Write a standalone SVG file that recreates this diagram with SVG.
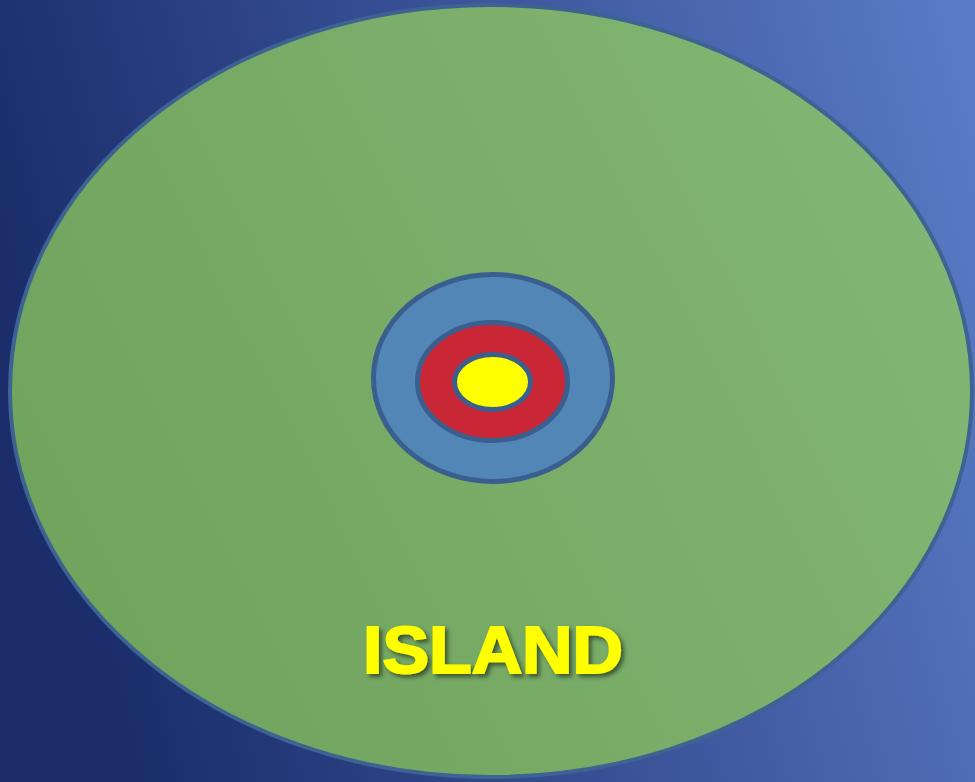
<svg xmlns="http://www.w3.org/2000/svg" width="975" height="782" viewBox="0 0 975 782">
<defs>
<linearGradient id="bg" x1="0" y1="0.3" x2="1" y2="0.1">
<stop offset="0" stop-color="#1b2d6b"/>
<stop offset="0.5" stop-color="#3a5399"/>
<stop offset="1" stop-color="#5a7bc6"/>
</linearGradient>
<linearGradient id="green" x1="0" y1="0.7" x2="1" y2="0.3">
<stop offset="0" stop-color="#70a35c"/>
<stop offset="1" stop-color="#82b674"/>
</linearGradient>
<filter id="sh" x="-10%" y="-20%" width="130%" height="150%">
<feDropShadow dx="3" dy="3" stdDeviation="2" flood-color="#000" flood-opacity="0.5"/>
</filter>
</defs>
<style>
.ring{stroke:#3a5f8f;stroke-width:5}
.label{font-family:"Liberation Sans",Arial,sans-serif;font-weight:bold;fill:#ffff00;stroke:#ffff00;stroke-width:2;}
</style>
<rect width="975" height="782" fill="url(#bg)"/>
<g id="island">
<ellipse cx="491" cy="391" rx="481" ry="386" fill="url(#green)" stroke="#3d6393" stroke-width="4"/>
</g>
<g id="blue-ring">
<ellipse class="ring" cx="493" cy="378" rx="119.5" ry="103.5" fill="#5186b6"/>
</g>
<g id="red-ring">
<ellipse class="ring" cx="492.5" cy="381.5" rx="75" ry="59" fill="#c92735"/>
</g>
<g id="yellow-core">
<ellipse class="ring" cx="492.5" cy="382" rx="38" ry="27.5" fill="#ffff00"/>
</g>
<g id="label" filter="url(#sh)">
<text class="label" x="493" y="673" font-size="66" text-anchor="middle" textLength="260" lengthAdjust="spacingAndGlyphs">ISLAND</text>
</g>
</svg>
